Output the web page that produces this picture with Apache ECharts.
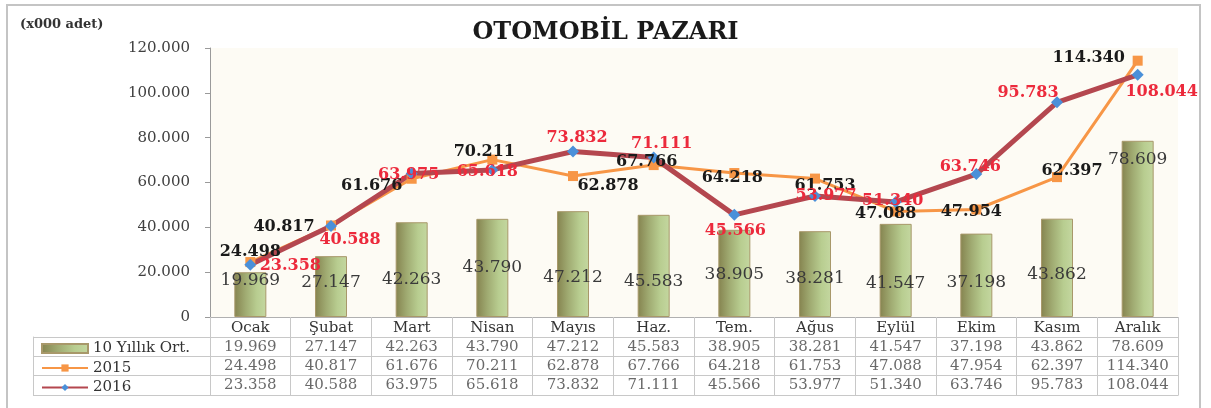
<!DOCTYPE html>
<html>
<head>
<meta charset="utf-8">
<title>Otomobil Pazarı</title>
<script src="https://cdn.jsdelivr.net/npm/echarts@6.0.0/dist/echarts.min.js"></script>
<style>
    html, body { margin: 0; padding: 0; background: #ffffff; }
    #main { width: 1211px; height: 408px; }
</style>
</head>
<body>
<div id="main"></div>
<script>
var months = ['Ocak', 'Şubat', 'Mart', 'Nisan', 'Mayıs', 'Haz.', 'Tem.', 'Ağus', 'Eylül', 'Ekim', 'Kasım', 'Aralık'];
var rowNames = ['10 Yıllık Ort.', '2015', '2016'];
var avg10 = [19969, 27147, 42263, 43790, 47212, 45583, 38905, 38281, 41547, 37198, 43862, 78609];
var y2015 = [24498, 40817, 61676, 70211, 62878, 67766, 64218, 61753, 47088, 47954, 62397, 114340];
var y2016 = [23358, 40588, 63975, 65618, 73832, 71111, 45566, 53977, 51340, 63746, 95783, 108044];
var yTicks = [0, 120000, 20000]; // min, max, interval

// label placement (style only)
var barLabelDist = [28, 26, 29, 41, 31, 27, 34, 30, 25, 26, 34, 10];
var off2015 = [[0, -10], [-47, 1], [-40, 7], [-8, -8], [35, 10], [-7, -3], [-2, 5], [10, 7], [-10, 2], [-5, 2], [15, -6], [-49, -3]];
var off2016 = [[40, 1], [19, 14], [-3, 1], [-5, 2], [4, -14], [8, -14], [1, 16], [11, 0], [-3, -1], [-6, -7], [-29, -9], [24, 17]];

var FONT = 'DejaVu Serif';
var LINE_GRAY = '#c8c8c8';

function fmt(v) {
    return String(v).replace(/\B(?=(\d{3})+(?!\d))/g, '.');
}

function createChart() {
    var chartDom = document.getElementById('main');
    var myChart = echarts.init(chartDom);
    var option;

    var barColor = new echarts.graphic.LinearGradient(0, 0, 1, 0, [
        { offset: 0, color: '#85834f' },
        { offset: 0.35, color: '#a0ab72' },
        { offset: 0.7, color: '#b8cd90' },
        { offset: 1, color: '#c4d7a0' }
    ]);

    var barData = avg10.map(function (v, i) {
        var last = i === avg10.length - 1;
        return {
            value: v,
            label: { position: last ? 'insideTop' : 'insideBottom', distance: barLabelDist[i] }
        };
    });
    var data2015 = y2015.map(function (v, i) {
        return { value: v, label: { offset: off2015[i] } };
    });
    var data2016 = y2016.map(function (v, i) {
        return { value: v, label: { offset: off2016[i] } };
    });

    // table cells built from the same arrays
    var tableRows = [avg10, y2015, y2016];
    var tableData = [];
    tableRows.forEach(function (row, r) {
        row.forEach(function (v, i) {
            tableData.push([i, r, v]);
        });
    });

    option = {
        animation: false,
        backgroundColor: '#ffffff',
        title: [
            {
                text: 'OTOMOBİL PAZARI',
                left: 'center',
                top: 16,
                textStyle: { fontFamily: FONT, fontSize: 24, fontWeight: 'bold', color: '#1a1a1a' }
            },
            {
                text: '(x000 adet)',
                left: 15,
                top: 13,
                textStyle: { fontFamily: FONT, fontSize: 13, fontWeight: 'bold', color: '#333' }
            }
        ],
        graphic: [
            {
                type: 'rect',
                shape: { x: 7, y: 5, width: 1193, height: 420 },
                style: { fill: 'none', stroke: '#c4c4c4', lineWidth: 2 },
                silent: true
            }
        ],
        legend: {
            data: [{ name: '10 Yıllık Ort.', icon: 'rect' }, { name: '2015' }, { name: '2016' }],
            orient: 'vertical',
            left: 36,
            top: 336,
            itemWidth: 46,
            itemHeight: 9,
            itemGap: 4.5,
            selectedMode: false,
            textStyle: { fontFamily: FONT, fontSize: 15, color: '#333', lineHeight: 15 }
        },
        grid: [
            { left: 210, right: 33, top: 48, height: 269, show: true, backgroundColor: '#fdfbf4', borderWidth: 0 },
            { left: 210, right: 33, top: 337, height: 58 }
        ],
        xAxis: [
            {
                type: 'category',
                gridIndex: 0,
                data: months,
                axisLine: { lineStyle: { color: '#b0b0b0' } },
                axisTick: { show: true, length: 20, lineStyle: { color: LINE_GRAY } },
                axisLabel: { margin: 4, fontFamily: FONT, fontSize: 15, color: '#333' }
            },
            {
                type: 'category',
                gridIndex: 1,
                data: months,
                axisLine: { lineStyle: { color: LINE_GRAY } },
                axisTick: { show: false },
                axisLabel: { show: false },
                splitLine: { show: true, lineStyle: { color: LINE_GRAY } }
            }
        ],
        yAxis: [
            {
                type: 'value',
                gridIndex: 0,
                min: yTicks[0],
                max: yTicks[1],
                interval: yTicks[2],
                axisLine: { show: true, lineStyle: { color: '#9a9a9a' } },
                axisTick: { show: true, length: 5, lineStyle: { color: '#9a9a9a' } },
                splitLine: { show: false },
                axisLabel: { margin: 20, fontFamily: FONT, fontSize: 15, color: '#404040', formatter: fmt }
            },
            {
                type: 'category',
                gridIndex: 1,
                data: rowNames,
                inverse: true,
                axisLine: { show: true, lineStyle: { color: LINE_GRAY } },
                axisTick: { show: true, length: 177, lineStyle: { color: LINE_GRAY } },
                axisLabel: { show: false },
                splitLine: { show: true, lineStyle: { color: LINE_GRAY } }
            },
            {
                type: 'category',
                gridIndex: 1,
                data: rowNames,
                inverse: true,
                position: 'left',
                offset: 177,
                axisLine: { show: true, lineStyle: { color: LINE_GRAY } },
                axisTick: { show: false },
                axisLabel: { show: false }
            },
            {
                type: 'category',
                gridIndex: 1,
                data: rowNames,
                inverse: true,
                position: 'right',
                axisLine: { show: true, lineStyle: { color: LINE_GRAY } },
                axisTick: { show: false },
                axisLabel: { show: false }
            }
        ],
        series: [
            {
                name: '10 Yıllık Ort.',
                type: 'bar',
                xAxisIndex: 0,
                yAxisIndex: 0,
                barWidth: 32,
                data: barData,
                itemStyle: { color: barColor, borderColor: '#a8986a', borderWidth: 1 },
                label: {
                    show: true,
                    formatter: function (p) { return fmt(p.value); },
                    fontFamily: FONT,
                    fontSize: 17,
                    color: '#3a3a3a'
                }
            },
            {
                name: '2015',
                type: 'line',
                xAxisIndex: 0,
                yAxisIndex: 0,
                data: data2015,
                symbol: 'rect',
                symbolSize: 10,
                lineStyle: { color: '#f79646', width: 3 },
                itemStyle: { color: '#f79646' },
                label: {
                    show: true,
                    position: 'inside',
                    formatter: function (p) { return fmt(p.value); },
                    fontFamily: FONT,
                    fontSize: 16,
                    fontWeight: 'bold',
                    color: '#1a1a1a'
                }
            },
            {
                name: '2016',
                type: 'line',
                xAxisIndex: 0,
                yAxisIndex: 0,
                data: data2016,
                symbol: 'diamond',
                symbolSize: 12,
                lineStyle: { color: '#b4474f', width: 5 },
                itemStyle: { color: '#4a90d9' },
                label: {
                    show: true,
                    position: 'inside',
                    formatter: function (p) { return fmt(p.value); },
                    fontFamily: FONT,
                    fontSize: 16,
                    fontWeight: 'bold',
                    color: '#ec2a3c'
                }
            },
            {
                name: 'tablo',
                type: 'scatter',
                xAxisIndex: 1,
                yAxisIndex: 1,
                data: tableData,
                symbolSize: 1,
                silent: true,
                itemStyle: { color: 'rgba(0,0,0,0)' },
                label: {
                    show: true,
                    position: 'inside',
                    formatter: function (p) { return fmt(p.value[2]); },
                    fontFamily: FONT,
                    fontSize: 15,
                    color: '#444'
                }
            }
        ]
    };

    option && myChart.setOption(option);
}

createChart();
</script>
</body>
</html>
